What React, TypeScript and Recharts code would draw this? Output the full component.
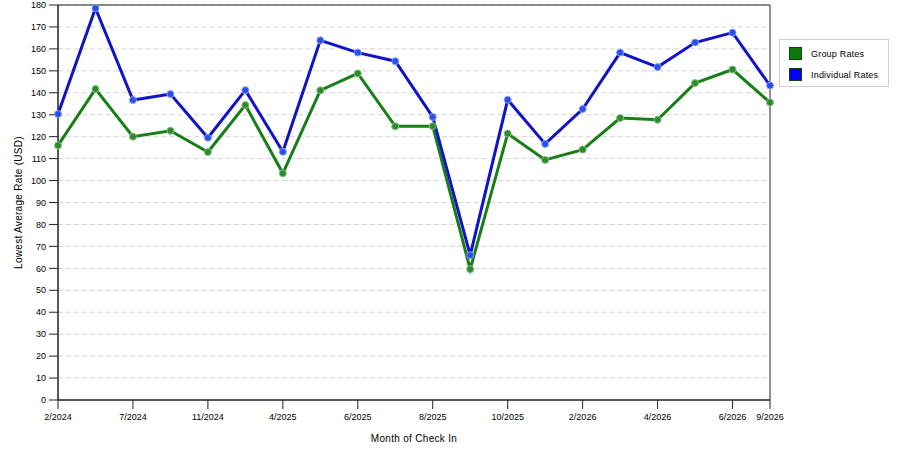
import React from 'react';
import { LineChart, Line, XAxis, YAxis, CartesianGrid, ReferenceArea } from 'recharts';

const months = [
  '2/2024', '5/2024', '7/2024', '9/2024', '11/2024', '1/2025', '4/2025', '5/2025', '6/2025', '7/2025',
  '8/2025', '9/2025', '10/2025', '12/2025', '2/2026', '3/2026', '4/2026', '5/2026', '6/2026', '9/2026',
];
const shownTicks = ['2/2024', '7/2024', '11/2024', '4/2025', '6/2025', '8/2025', '10/2025', '2/2026', '4/2026', '6/2026', '9/2026'];
const groupRates = [116, 141.7, 120, 122.7, 113, 134.4, 103.3, 141.1, 148.8, 124.7, 124.8, 59.6, 121.4, 109.4, 114.1, 128.5, 127.7, 144.4, 150.6, 135.6];
const individualRates = [130.3, 178.5, 136.7, 139.4, 119.5, 141.2, 113.1, 163.9, 158.3, 154.4, 129, 66, 136.8, 116.7, 132.6, 158.3, 151.7, 162.9, 167.4, 143.3];
const yTicks = [0, 10, 20, 30, 40, 50, 60, 70, 80, 90, 100, 110, 120, 130, 140, 150, 160, 170, 180];
const legendItems = [
  { name: 'Group Rates', color: '#0b7a0b' },
  { name: 'Individual Rates', color: '#0000ff' },
];

const data = months.map((m, i) => ({ month: m, group: groupRates[i], individual: individualRates[i] }));

const GREEN = '#187f18';
const BLUE = '#1212c8';
const FONT = '"Liberation Sans", Arial, sans-serif';

const LegendBox = () => (
  <div style={{ position: 'absolute', left: 779, top: 39, width: 108, height: 46, border: '1px solid #cfcfcf', background: '#fff', fontFamily: FONT, fontSize: 9, color: '#000' }}>
    {legendItems.map((it, i) => (
      <div key={it.name} style={{ position: 'absolute', left: 9, top: 7 + i * 21, display: 'flex', alignItems: 'center', whiteSpace: 'nowrap' }}>
        <div style={{ width: 11, height: 11, background: it.color, border: '1px solid #114411' }} />
        <span style={{ marginLeft: 9, letterSpacing: 0.2 }}>{it.name}</span>
      </div>
    ))}
  </div>
);

export default function App() {
  return (
    <div style={{ position: 'absolute', left: 0, top: 0, width: 900, height: 450, background: '#fff' }}>
      <LineChart width={900} height={450} data={data} margin={{ top: 5, right: 130, bottom: 0, left: 0 }}>
        <CartesianGrid horizontal vertical={false} stroke="#d4d4d4" strokeDasharray="5 3" />
        <ReferenceArea x1="2/2024" x2="9/2026" y1={0} y2={180} fill="none" stroke="#222" strokeWidth={1} ifOverflow="visible" />
        <XAxis
          dataKey="month"
          ticks={shownTicks}
          interval={0}
          height={50}
          tickSize={9}
          tickMargin={5}
          axisLine={{ stroke: '#222' }}
          tickLine={{ stroke: '#222' }}
          tick={{ fill: '#000', fontSize: 9, fontFamily: FONT }}
          label={{ value: 'Month of Check In', position: 'insideBottom', offset: 8, style: { fill: '#000', fontSize: 10, fontFamily: FONT, letterSpacing: 0.3 } }}
        />
        <YAxis
          domain={[0, 180]}
          ticks={yTicks}
          interval={0}
          width={58}
          tickSize={9}
          tickMargin={3}
          axisLine={{ stroke: '#222' }}
          tickLine={{ stroke: '#222' }}
          tick={{ fill: '#000', fontSize: 9, fontFamily: FONT }}
          label={{ value: 'Lowest Average Rate (USD)', angle: -90, position: 'insideLeft', offset: 18, style: { textAnchor: 'middle', fill: '#000', fontSize: 10, fontFamily: FONT, letterSpacing: 0.3 } }}
        />
        <Line
          type="linear"
          dataKey="group"
          name="Group Rates"
          stroke={GREEN}
          strokeWidth={3}
          dot={{ r: 3.5, fill: '#2f8a2f', stroke: '#7fbf7f', strokeWidth: 1 }}
          isAnimationActive={false}
        />
        <Line
          type="linear"
          dataKey="individual"
          name="Individual Rates"
          stroke={BLUE}
          strokeWidth={3}
          dot={{ r: 3.5, fill: '#2a4fe6', stroke: '#8aa0f0', strokeWidth: 1 }}
          isAnimationActive={false}
        />
      </LineChart>
      <LegendBox />
    </div>
  );
}
